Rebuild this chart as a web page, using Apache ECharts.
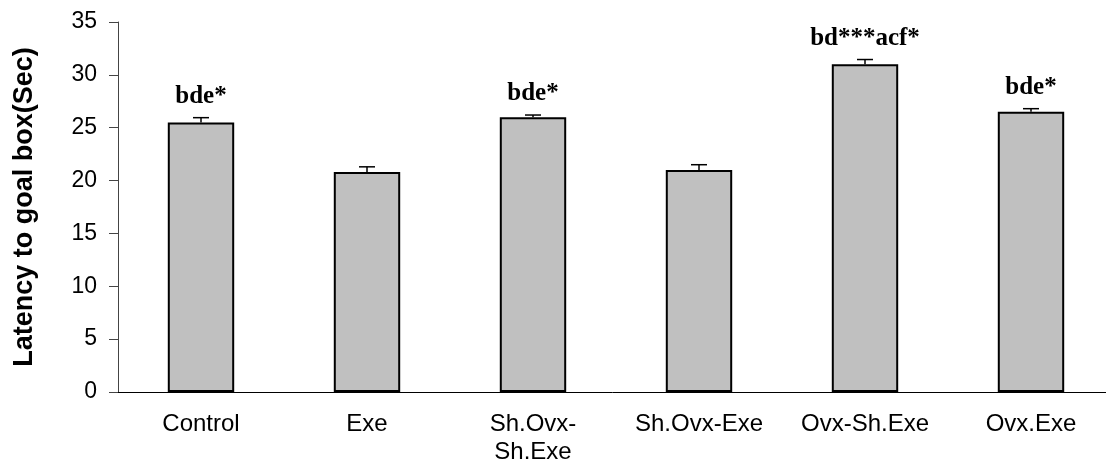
<!DOCTYPE html>
<html>
<head>
<meta charset="utf-8">
<script src="https://cdn.jsdelivr.net/npm/echarts@6/dist/echarts.min.js"></script>
<style>
  html, body { margin: 0; padding: 0; background: #fff; }
  #chart { width: 1106px; height: 461px; }
</style>
</head>
<body>
<div id="chart"></div>
<script>
// Groups on the x axis
const groups = ['Control', 'Exe', 'Sh.Ovx-\nSh.Exe', 'Sh.Ovx-Exe', 'Ovx-Sh.Exe', 'Ovx.Exe'];
// Mean latency (s) and SEM for each group
const latency = [25.5, 20.8, 26.0, 21.0, 31.0, 26.5];
const sem = [0.45, 0.5, 0.2, 0.5, 0.45, 0.3];
// Significance marks above the bars
const marks = ['bde*', '', 'bde*', '', 'bd***acf*', 'bde*'];
// Y axis ticks
const yMin = 0, yMax = 35, yStep = 5;

const chart = echarts.init(document.getElementById('chart'), null, { renderer: 'canvas' });

const sansFont = '"Liberation Sans", Arial, sans-serif';
const serifFont = '"Liberation Serif", "Times New Roman", serif';

chart.setOption({
  animation: false,
  backgroundColor: '#ffffff',
  grid: {
    left: 118, right: -8, top: 22, bottom: 69,
    containLabel: false,
    outerBoundsMode: 'none'
  },
  xAxis: {
    type: 'category',
    data: groups,
    axisLine: { show: true, lineStyle: { color: '#000', width: 1 } },
    axisTick: { show: false },
    axisLabel: {
      color: '#000',
      fontFamily: sansFont,
      fontSize: 24,
      margin: 18,
      lineHeight: 28,
      interval: 0
    },
    splitLine: { show: false }
  },
  yAxis: {
    type: 'value',
    min: yMin,
    max: yMax,
    interval: yStep,
    name: 'Latency to goal box(Sec)',
    nameLocation: 'middle',
    nameGap: 80,
    nameTextStyle: {
      color: '#000',
      fontFamily: sansFont,
      fontWeight: 'bold',
      fontSize: 27
    },
    axisLine: { show: true, lineStyle: { color: '#444', width: 1 } },
    axisTick: { show: true, inside: false, length: 9, lineStyle: { color: '#444', width: 1 } },
    axisLabel: {
      color: '#000',
      fontFamily: sansFont,
      fontSize: 23,
      margin: 21
    },
    splitLine: { show: false }
  },
  series: [
    {
      type: 'bar',
      data: latency,
      barWidth: '40%',
      itemStyle: { color: '#c0c0c0', borderColor: '#000', borderWidth: 2 },
      z: 2
    },
    {
      // Upper error bars with the significance marks above them
      type: 'custom',
      data: latency.map((v, i) => [i, v, sem[i]]),
      z: 3,
      renderItem: function (params, api) {
        const i = api.value(0);
        const v = api.value(1);
        const e = api.value(2);
        const base = api.coord([i, v]);
        const tip = api.coord([i, v + e]);
        const half = 8;
        const children = [
          {
            type: 'line',
            shape: { x1: base[0], y1: base[1], x2: tip[0], y2: tip[1] },
            style: { stroke: '#000', lineWidth: 1.5 }
          },
          {
            type: 'line',
            shape: { x1: tip[0] - half, y1: tip[1], x2: tip[0] + half, y2: tip[1] },
            style: { stroke: '#000', lineWidth: 1.5 }
          }
        ];
        const txt = marks[params.dataIndex];
        if (txt) {
          children.push({
            type: 'text',
            style: {
              text: txt,
              x: tip[0],
              y: tip[1] - 21,
              align: 'center',
              verticalAlign: 'middle',
              fill: '#000',
              font: 'bold 25px ' + serifFont
            }
          });
        }
        return { type: 'group', children: children };
      }
    }
  ]
});
</script>
</body>
</html>
